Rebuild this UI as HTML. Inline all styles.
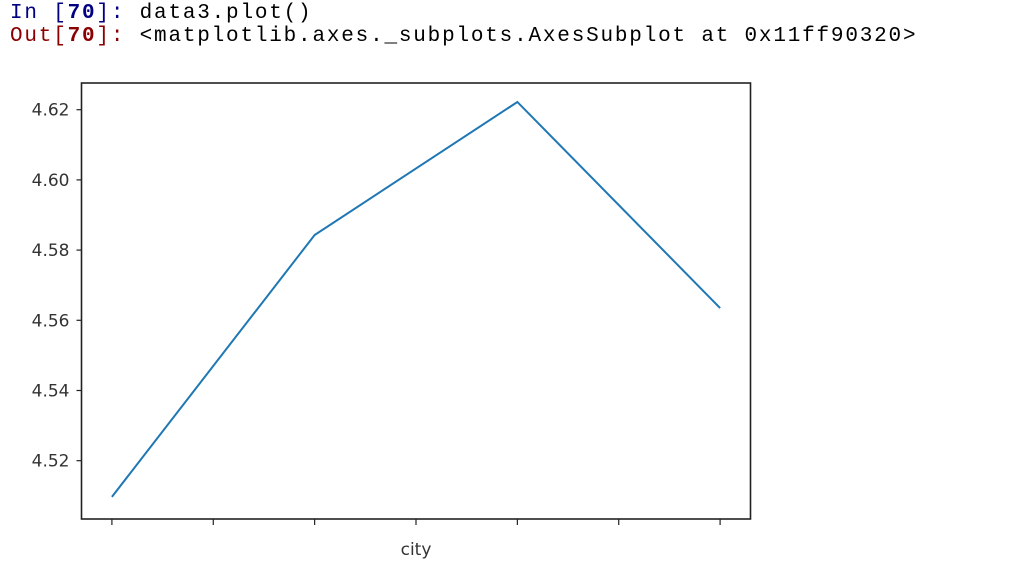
<!DOCTYPE html>
<html><head><meta charset="utf-8"><style>
body{margin:0;background:#fff;width:1010px;height:576px;overflow:hidden;position:relative}
.code{position:absolute;left:10px;font-family:"Liberation Mono",monospace;font-size:21px;letter-spacing:1.8px;color:#000;white-space:pre}
</style></head><body>
<div class="code" style="top:2px"><span style="color:#000080">In [<b>70</b>]:</span> data3.plot()</div>
<div class="code" style="top:25px"><span style="color:#8b0000">Out[<b>70</b>]:</span> &lt;matplotlib.axes._subplots.AxesSubplot at 0x11ff90320&gt;</div>
<svg id="chart" width="1010" height="576" style="position:absolute;left:0;top:0"></svg>
<script>
const categories=["c1","c2","c3","c4"];
const values=[4.5097,4.5843,4.6222,4.5635];
const yTicks=[4.52,4.54,4.56,4.58,4.60,4.62];
const xTicks=[0,0.5,1,1.5,2,2.5,3];
const xLabel="city";
const L=81.5,R=750.5,T=83,B=519;
const xmin=-0.15,xmax=categories.length-1+0.15;
const X=v=>L+(v-xmin)/(xmax-xmin)*(R-L);
const Y=v=>109.7+(4.62-v)/0.02*70.2;
const svg=document.getElementById('chart');
const NS='http://www.w3.org/2000/svg';
function mk(t,a){const e=document.createElementNS(NS,t);for(const k in a)e.setAttribute(k,a[k]);svg.appendChild(e);return e;}
let fr=mk('rect',{x:L,y:T,width:R-L,height:B-T,fill:'none',stroke:'#222','stroke-width':1.6});


yTicks.forEach(v=>{
  const y=Y(v);
  let t=mk('line',{x1:L-5,x2:L,y1:y,y2:y,stroke:'#222','stroke-width':1.2});
  
  
  let tx=mk('text',{x:L-12,y:y+6,'text-anchor':'end','font-family':'DejaVu Sans, sans-serif','font-size':'17',fill:'#333'});
  tx.textContent=v.toFixed(2);
  
  
});
xTicks.forEach(v=>{
  const x=X(v);
  let t=mk('line',{x1:x,x2:x,y1:B,y2:B+6,stroke:'#222','stroke-width':1.2});
  
  
});
let xl=mk('text',{x:X(1.5),y:555,'text-anchor':'middle','font-family':'DejaVu Sans, sans-serif','font-size':'17',fill:'#333'});
xl.textContent=xLabel;


let ln=mk('polyline',{points:values.map((v,i)=>X(i)+','+Y(v)).join(' '),fill:'none',stroke:'#1f77b4','stroke-width':2});


</script>
</body></html>
